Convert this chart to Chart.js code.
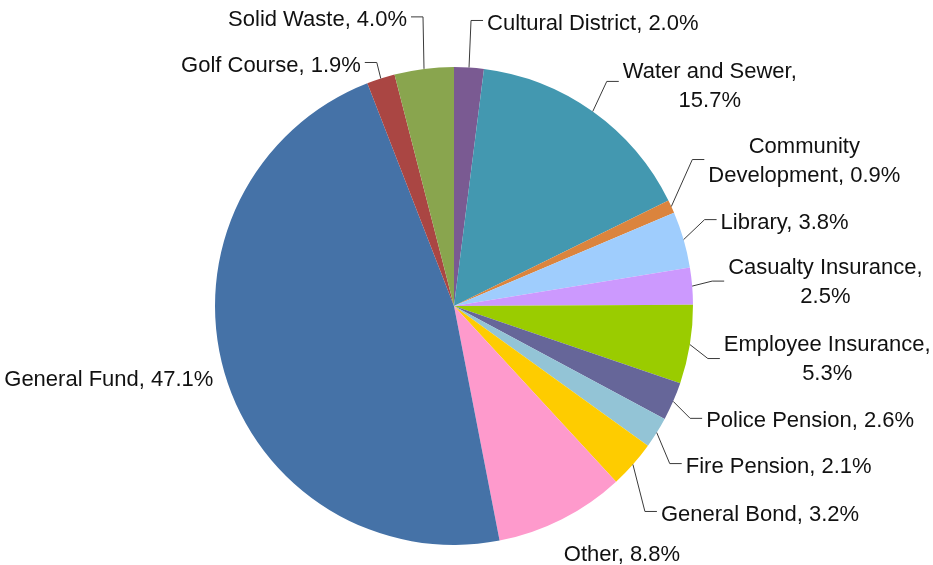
<!DOCTYPE html>
<html>
<head>
<meta charset="utf-8">
<title>Budget by Fund</title>
<script src="https://cdn.jsdelivr.net/npm/chart.js@4/dist/chart.umd.min.js"></script>
<style>
    html, body { margin: 0; padding: 0; background: #ffffff; }
    canvas { display: block; }
</style>
</head>
<body>
<canvas id="fund-chart" width="933" height="565"></canvas>
<script>
// funds, clockwise from 12 o'clock
const funds = [
    'Cultural District',
    'Water and Sewer',
    'Community Development',
    'Library',
    'Casualty Insurance',
    'Employee Insurance',
    'Police Pension',
    'Fire Pension',
    'General Bond',
    'Other',
    'General Fund',
    'Golf Course',
    'Solid Waste',
];
// share of total budget, percent
const shares = [2.0, 15.7, 0.9, 3.8, 2.5, 5.3, 2.6, 2.1, 3.2, 8.8, 47.1, 1.9, 4.0];
const fundColors = [
    '#7a5a92', '#4398b0', '#db843d', '#9fcdfd', '#cc99fe', '#9acc00', '#666699',
    '#93c4d6', '#fecc00', '#fe9acc', '#4572a7', '#aa4643', '#89a54e',
];

// label placement: offset of the leader end from the slice edge, text side, wrap mode
// wrap: '' = one line, 'value' = break before the percent, 'name' = break after first word
const labelLayout = [
    { dx: 14, dy: -47, side: 'right', wrap: '' },
    { dx: 26, dy: -30, side: 'right', wrap: 'value', ty: 5 },
    { dx: 33, dy: -47, side: 'right', wrap: 'name', ty: 2 },
    { dx: 33, dy: -20, side: 'right', wrap: '' },
    { dx: 32, dy: -5, side: 'right', wrap: 'value', ty: 1 },
    { dx: 30, dy: 14, side: 'right', wrap: 'value', ty: 1 },
    { dx: 29, dy: 17, side: 'right', wrap: '' },
    { dx: 25, dy: 31, side: 'right', wrap: '' },
    { dx: 24, dy: 47, side: 'right', wrap: '' },
    { dx: 60, dy: 33, side: 'center', wrap: '', noLine: true },
    { dx: -7, dy: 5, side: 'left', wrap: '', noLine: true },
    { dx: -16, dy: -16, side: 'left', wrap: '' },
    { dx: -13, dy: -52, side: 'left', wrap: '' },
];

// split label text into lines
function getLabelLines(i) {
    let name = funds[i];
    let value = shares[i].toFixed(1) + '%';
    let wrap = labelLayout[i].wrap;
    if (wrap == 'value') return [name + ',', value];
    if (wrap == 'name') {
        let k = name.indexOf(' ');
        return [name.substring(0, k), name.substring(k + 1) + ', ' + value];
    }
    return [name + ', ' + value];
}

// draw text labels with elbow leader lines
const sliceLabels = {
    id: 'sliceLabels',
    afterDatasetsDraw(chart) {
        let ctx = chart.ctx;
        let meta = chart.getDatasetMeta(0);
        ctx.save();
        ctx.font = '22px "Liberation Sans", Arial, sans-serif';
        ctx.textBaseline = 'middle';
        ctx.lineWidth = 1;
        meta.data.forEach((arc, i) => {
            let p = arc.getProps(['x', 'y', 'startAngle', 'endAngle', 'outerRadius'], true);
            let mid = (p.startAngle + p.endAngle) / 2;
            let ax = p.x + Math.cos(mid) * p.outerRadius;
            let ay = p.y + Math.sin(mid) * p.outerRadius;
            let lay = labelLayout[i];
            let lines = getLabelLines(i);
            let cx = ax + lay.dx;
            let cy = ay + lay.dy;
            let lineH = 29;
            let ty = lay.ty != undefined ? lay.ty : 3;
            let blockW = Math.max(...lines.map((t) => ctx.measureText(t).width));
            let top = cy + ty - (lines.length - 1) * lineH / 2;

            if (!lay.noLine) {
                let elbowX = lay.side == 'right' ? cx - 12 : cx + 12;
                ctx.strokeStyle = '#3a3a3a';
                ctx.beginPath();
                ctx.moveTo(ax, ay);
                ctx.lineTo(elbowX, cy);
                ctx.lineTo(cx, cy);
                ctx.stroke();
            }

            ctx.fillStyle = '#111111';
            let textX;
            if (lay.side == 'right') {
                textX = cx + 4 + blockW / 2;
                ctx.textAlign = 'center';
            } else if (lay.side == 'left') {
                textX = cx - 4;
                ctx.textAlign = 'right';
            } else {
                textX = cx;
                ctx.textAlign = 'center';
            }
            lines.forEach((t, k) => {
                ctx.fillText(t, textX, top + k * lineH);
            });
        });
        ctx.restore();
    },
};

let vCanvas = document.getElementById('fund-chart').getContext('2d');
new Chart(vCanvas, {
    type: 'pie',
    data: {
        labels: funds,
        datasets: [
            {
                data: shares,
                backgroundColor: fundColors,
                borderWidth: 0,
                hoverOffset: 0,
            },
        ],
    },
    options: {
        responsive: false,
        animation: false,
        layout: {
            padding: { top: 67, bottom: 20, left: 215, right: 240 },
        },
        plugins: {
            legend: { display: false },
            tooltip: { enabled: false },
        },
    },
    plugins: [sliceLabels],
});
</script>
</body>
</html>
